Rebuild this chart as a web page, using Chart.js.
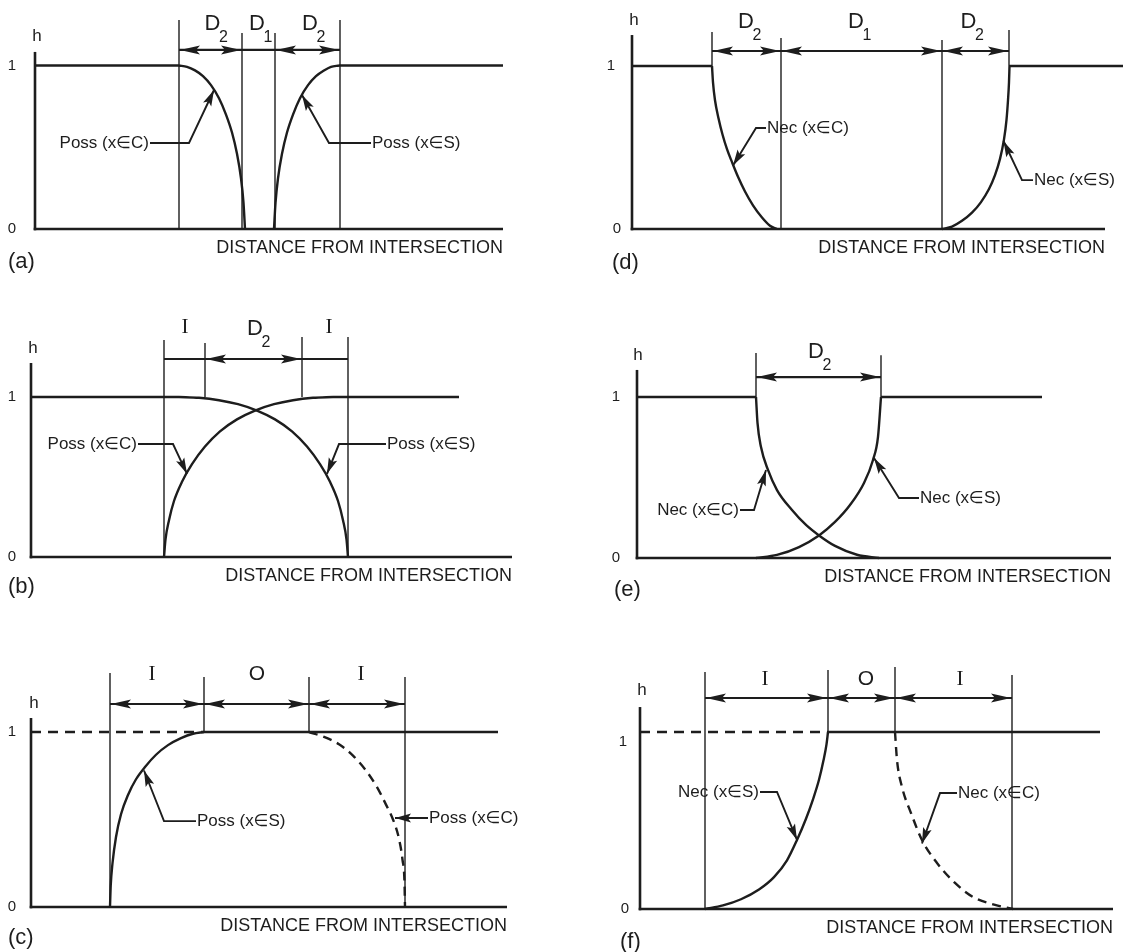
<!DOCTYPE html>
<html>
<head>
<meta charset="utf-8">
<script src="https://cdn.jsdelivr.net/npm/chart.js@4.4.1/dist/chart.umd.min.js"></script>
<style>
  body { margin: 0; background: #fff; }
  #sheet { position: relative; width: 1128px; height: 952px; overflow: hidden; }
  canvas { position: absolute; }
</style>
</head>
<body>
<div id="sheet"></div>
<script>
const INK = '#1d1d1d';
const SANS = '"Liberation Sans", Arial, "DejaVu Sans", sans-serif';
const SERIF = '"Liberation Serif", "Times New Roman", serif';

// x = distance from the h axis (1 unit = 10 px of the figure), y = h (0..1)

// (a) possibility, crossing apart
const aFlatLeft = [[0, 1], [14.4, 1]];
const aFlatRight = [[30.4, 1], [46.8, 1]];
const aPossC = [[14.4, 1], [15.2, 0.992], [16.0, 0.97], [16.8, 0.935], [17.6, 0.88], [18.4, 0.8], [19.1, 0.7], [19.7, 0.59], [20.2, 0.46], [20.6, 0.31], [20.85, 0.16], [21.0, 0]];
const aPossS = [[23.9, 0], [24.05, 0.16], [24.3, 0.31], [24.7, 0.46], [25.2, 0.59], [25.8, 0.7], [26.5, 0.8], [27.3, 0.88], [28.1, 0.935], [28.9, 0.97], [29.6, 0.992], [30.4, 1]];

// (b) possibility, overlapping
const bFlatLeft = [[0, 1], [14.8, 1]];
const bFlatRight = [[30.2, 1], [42.8, 1]];
const bDown = [[14.8, 1], [16.8, 0.995], [18.8, 0.98], [20.7, 0.955], [22.6, 0.915], [24.4, 0.86], [26.1, 0.785], [27.6, 0.69], [28.9, 0.58], [29.9, 0.47], [30.7, 0.35], [31.2, 0.23], [31.55, 0.11], [31.7, 0]];
const bUp = [[13.3, 0], [13.45, 0.11], [13.8, 0.23], [14.3, 0.35], [15.1, 0.47], [16.1, 0.58], [17.4, 0.69], [18.9, 0.785], [20.6, 0.86], [22.4, 0.915], [24.3, 0.955], [26.2, 0.98], [28.2, 0.995], [30.2, 1]];

// (c) possibility, dashed / solid
const cFlatDashed = [[0, 1], [17.3, 1]];
const cFlatSolid = [[17.3, 1], [46.7, 1]];
const cPossS = [[7.9, 0], [7.97, 0.12], [8.15, 0.25], [8.5, 0.4], [9.0, 0.53], [9.7, 0.64], [10.5, 0.73], [11.4, 0.8], [12.5, 0.87], [13.7, 0.925], [15.0, 0.965], [16.2, 0.99], [17.3, 1]];
const cPossC = [[27.8, 1], [29.3, 0.972], [30.8, 0.93], [32.2, 0.865], [33.5, 0.78], [34.6, 0.685], [35.5, 0.585], [36.2, 0.5], [36.8, 0.39], [37.15, 0.27], [37.35, 0.14], [37.4, 0]];

// (d) necessity, crossing apart
const dFlatLeft = [[0, 1], [8.0, 1]];
const dFlatRight = [[37.7, 1], [49.1, 1]];
const dNecC = [[8.0, 1], [8.1, 0.9], [8.3, 0.79], [8.65, 0.68], [9.05, 0.58], [9.5, 0.49], [10.0, 0.41], [10.6, 0.32], [11.3, 0.23], [12.1, 0.145], [13.0, 0.07], [13.8, 0.02], [14.5, 0]];
const dNecS = [[31.0, 0], [32.0, 0.015], [33.0, 0.05], [34.0, 0.1], [34.9, 0.165], [35.7, 0.245], [36.3, 0.33], [36.8, 0.43], [37.2, 0.55], [37.45, 0.67], [37.6, 0.79], [37.7, 0.9], [37.75, 1]];

// (e) necessity, overlapping
const eFlatLeft = [[0, 1], [11.9, 1]];
const eFlatRight = [[24.4, 1], [40.5, 1]];
const eNecC = [[11.9, 1], [12.05, 0.839], [12.4, 0.689], [13.1, 0.547], [14.0, 0.422], [15.5, 0.298], [16.9, 0.205], [18.2, 0.14], [19.8, 0.075], [22.0, 0.02], [24.2, 0]];
const eNecS = [[11.9, 0], [14.0, 0.019], [16.2, 0.068], [18.2, 0.14], [19.8, 0.224], [21.3, 0.329], [22.7, 0.466], [23.6, 0.609], [24.1, 0.752], [24.4, 1]];

// (f) necessity, dashed / solid
const fFlatDashed = [[0, 1], [18.8, 1]];
const fFlatSolid = [[18.8, 1], [46.0, 1]];
const fNecS = [[6.5, 0], [8.3, 0.02], [10.1, 0.055], [11.9, 0.11], [13.4, 0.18], [14.7, 0.275], [15.7, 0.39], [16.6, 0.51], [17.3, 0.62], [17.9, 0.73], [18.35, 0.84], [18.65, 0.93], [18.8, 1]];
const fNecC = [[25.5, 1], [25.7, 0.842], [26.2, 0.689], [27.1, 0.542], [28.2, 0.39], [29.7, 0.26], [31.5, 0.147], [33.3, 0.068], [35.5, 0.023], [37.3, 0]];

const DASH = [9, 6];

const panels = [
  { id: 'a', box: [0, 0, 564, 300], ox: 35, xEnd: 503, y1: 65.5, y0: 229,
    curves: [{ pts: aFlatLeft }, { pts: aFlatRight }, { pts: aPossC }, { pts: aPossS }],
    axisTop: 1.083, h: [0.2, 1.18], ticks: [[-2.3, 0, '0'], [-2.3, 1, '1']], tag: [-2.7, -0.2, '(a)'],
    verticals: [[14.4, 1.278, 0], [20.7, 1.199, 0], [24.0, 1.199, 0], [30.5, 1.278, 0]],
    dimY: 1.095, dims: [[14.4, 20.7, true], [20.7, 24.0, false], [24.0, 30.5, true]],
    labels: [['D', '2', 17.75, 1.217], ['D', '1', 22.2, 1.217], ['D', '2', 27.5, 1.217]],
    leaders: [
      { text: 'Poss (x∈C)', side: 'left', pts: [[11.5, 0.526], [15.4, 0.526], [17.9, 0.85]] },
      { text: 'Poss (x∈S)', side: 'right', pts: [[33.6, 0.526], [29.4, 0.526], [26.7, 0.82]] }
    ] },
  { id: 'd', box: [564, 0, 564, 300], ox: 632, xEnd: 1105, y1: 66, y0: 229,
    curves: [{ pts: dFlatLeft }, { pts: dFlatRight }, { pts: dNecC }, { pts: dNecS }],
    axisTop: 1.19, h: [0.2, 1.282], ticks: [[-1.5, 0, '0'], [-2.1, 1, '1']], tag: [-2.0, -0.21, '(d)'],
    verticals: [[8.0, 1.209, 1], [14.9, 1.172, 0], [31.0, 1.16, 0], [37.7, 1.221, 1]],
    dimY: 1.092, dims: [[8.0, 14.9, true], [14.9, 31.0, true], [31.0, 37.7, true]],
    labels: [['D', '2', 11.4, 1.233], ['D', '1', 22.4, 1.233], ['D', '2', 33.65, 1.233]],
    leaders: [
      { text: 'Nec (x∈C)', side: 'right', pts: [[13.4, 0.62], [12.4, 0.62], [10.1, 0.39]] },
      { text: 'Nec (x∈S)', side: 'right', pts: [[40.1, 0.3], [39.0, 0.3], [37.15, 0.54]] }
    ] },
  { id: 'b', box: [0, 300, 564, 320], ox: 31, xEnd: 512, y1: 397, y0: 557,
    curves: [{ pts: bFlatLeft }, { pts: bFlatRight }, { pts: bDown }, { pts: bUp }],
    axisTop: 1.2125, h: [0.2, 1.306], ticks: [[-1.9, 0, '0'], [-1.9, 1, '1']], tag: [-2.3, -0.19, '(b)'],
    verticals: [[13.3, 1.356, 0], [17.4, 1.3375, 1], [27.1, 1.375, 1], [31.7, 1.375, 0]],
    dimY: 1.2375, dims: [[13.3, 17.4, false], [17.4, 27.1, true], [27.1, 31.7, false]],
    labels: [['I', '', 15.4, 1.4, 'serif'], ['D', '2', 22.4, 1.3875], ['I', '', 29.8, 1.4, 'serif']],
    leaders: [
      { text: 'Poss (x∈C)', side: 'left', pts: [[10.7, 0.706], [14.2, 0.706], [15.6, 0.52]] },
      { text: 'Poss (x∈S)', side: 'right', pts: [[35.5, 0.706], [30.8, 0.706], [29.6, 0.52]] }
    ] },
  { id: 'e', box: [564, 300, 564, 320], ox: 637, xEnd: 1111, y1: 397, y0: 558,
    curves: [{ pts: eFlatLeft }, { pts: eFlatRight }, { pts: eNecC }, { pts: eNecS }],
    axisTop: 1.168, h: [0.1, 1.26], ticks: [[-2.1, 0, '0'], [-2.1, 1, '1']], tag: [-2.3, -0.2, '(e)'],
    verticals: [[11.9, 1.273, 1], [24.4, 1.26, 1]],
    dimY: 1.124, dims: [[11.9, 24.4, true]],
    labels: [['D', '2', 17.9, 1.242]],
    leaders: [
      { text: 'Nec (x∈C)', side: 'left', pts: [[10.3, 0.298], [11.7, 0.298], [12.9, 0.547]] },
      { text: 'Nec (x∈S)', side: 'right', pts: [[28.2, 0.373], [26.2, 0.373], [23.7, 0.621]] }
    ] },
  { id: 'c', box: [0, 620, 564, 332], ox: 31, xEnd: 507, y1: 732, y0: 907,
    curves: [{ pts: cFlatDashed, dash: [10, 7] }, { pts: cFlatSolid }, { pts: cPossS }, { pts: cPossC, dash: DASH }],
    axisTop: 1.08, h: [0.3, 1.166], ticks: [[-1.9, 0, '0'], [-1.9, 1, '1']], tag: [-2.3, -0.177, '(c)'],
    verticals: [[7.9, 1.337, 0], [17.3, 1.314, 1], [27.8, 1.314, 1], [37.4, 1.314, 0]],
    dimY: 1.16, dims: [[7.9, 17.3, true], [17.3, 27.8, true], [27.8, 37.4, true]],
    labels: [['I', '', 12.1, 1.297, 'serif'], ['O', '', 22.6, 1.297], ['I', '', 33.0, 1.297, 'serif']],
    leaders: [
      { text: 'Poss (x∈S)', side: 'right', pts: [[16.5, 0.491], [13.3, 0.491], [11.3, 0.78]] },
      { text: 'Poss (x∈C)', side: 'right', pts: [[39.7, 0.509], [36.4, 0.509]] }
    ] },
  { id: 'f', box: [564, 620, 564, 332], ox: 640, xEnd: 1113, y1: 732, y0: 909,
    curves: [{ pts: fFlatDashed, dash: [10, 7] }, { pts: fFlatSolid }, { pts: fNecS }, { pts: fNecC, dash: DASH }],
    axisTop: 1.141, h: [0.2, 1.237], ticks: [[-1.5, 0, '0'], [-1.7, 0.944, '1']], tag: [-2.0, -0.186, '(f)'],
    verticals: [[6.5, 1.339, 0], [18.8, 1.35, 1], [25.5, 1.367, 1], [37.2, 1.322, 0]],
    dimY: 1.192, dims: [[6.5, 18.8, true], [18.8, 25.5, true], [25.5, 37.2, true]],
    labels: [['I', '', 12.5, 1.266, 'serif'], ['O', '', 22.6, 1.266], ['I', '', 32.0, 1.266, 'serif']],
    leaders: [
      { text: 'Nec (x∈S)', side: 'left', pts: [[12.0, 0.661], [13.7, 0.661], [15.7, 0.39]] },
      { text: 'Nec (x∈C)', side: 'right', pts: [[31.7, 0.655], [30.0, 0.655], [28.2, 0.37]] }
    ] }
];

const byId = {};
panels.forEach(p => byId['panel-' + p.id] = p);

function seg(ctx, x0, y0, x1, y1, w) {
  ctx.lineWidth = w;
  ctx.beginPath();
  ctx.moveTo(x0, y0);
  ctx.lineTo(x1, y1);
  ctx.stroke();
}

// arrowhead with its tip at (tx,ty), pointing away from (fx,fy)
function head(ctx, tx, ty, fx, fy, len, hw) {
  const dx = fx - tx, dy = fy - ty, d = Math.hypot(dx, dy) || 1;
  const ux = dx / d, uy = dy / d;
  const bx = tx + ux * len, by = ty + uy * len;
  ctx.beginPath();
  ctx.moveTo(tx, ty);
  ctx.lineTo(bx - uy * hw, by + ux * hw);
  ctx.lineTo(tx + ux * len * 0.8, ty + uy * len * 0.8);
  ctx.lineTo(bx + uy * hw, by - ux * hw);
  ctx.closePath();
  ctx.fill();
}

function write(ctx, s, x, y, font, align, base) {
  ctx.font = font;
  ctx.textAlign = align;
  ctx.textBaseline = base;
  ctx.fillText(s, x, y);
}

const figurePlugin = {
  id: 'figure',
  afterDatasetsDraw(chart) {
    const p = byId[chart.canvas.id];
    const ctx = chart.ctx;
    const xs = chart.scales.x, ys = chart.scales.y;
    const X = v => xs.getPixelForValue(v);
    const Y = v => ys.getPixelForValue(v);
    ctx.save();
    ctx.strokeStyle = INK;
    ctx.fillStyle = INK;
    ctx.setLineDash([]);

    // axes
    seg(ctx, X(0), Y(p.axisTop), X(0), Y(0) + 1.3, 2.6);
    seg(ctx, X(0) - 1.3, Y(0), X(xs.max), Y(0), 2.6);

    // zone boundaries
    p.verticals.forEach(([x, t, b]) => seg(ctx, X(x), Y(t), X(x), Y(b), 1.4));

    // dimension line
    const dy = Y(p.dimY);
    p.dims.forEach(([a, b, arrows]) => {
      seg(ctx, X(a), dy, X(b), dy, 2.2);
      if (arrows) {
        head(ctx, X(a) + 1, dy, X(b), dy, 20, 4.5);
        head(ctx, X(b) - 1, dy, X(a), dy, 20, 4.5);
      }
    });

    // zone labels
    p.labels.forEach(([main, sub, x, y, face]) => {
      const font = face === 'serif' ? '21px ' + SERIF : (main === 'O' ? '21px ' : '22px ') + SANS;
      write(ctx, main, X(x), Y(y), font, 'center', 'alphabetic');
      if (sub) {
        const w = ctx.measureText(main).width;
        write(ctx, sub, X(x) + w / 2 - 1.5, Y(y) + 11.5, '16px ' + SANS, 'left', 'alphabetic');
      }
    });

    // leaders with arrows
    p.leaders.forEach(l => {
      const pts = l.pts.map(([x, y]) => [X(x), Y(y)]);
      ctx.lineWidth = 1.9;
      ctx.beginPath();
      pts.forEach(([x, y], i) => i ? ctx.lineTo(x, y) : ctx.moveTo(x, y));
      ctx.stroke();
      const n = pts.length;
      head(ctx, pts[n - 1][0], pts[n - 1][1], pts[n - 2][0], pts[n - 2][1], 16, 4.5);
      if (l.side === 'left') write(ctx, l.text, pts[0][0] - 1, pts[0][1], '17px ' + SANS, 'right', 'middle');
      else write(ctx, l.text, pts[0][0] + 1, pts[0][1], '17px ' + SANS, 'left', 'middle');
    });

    // axis texts
    write(ctx, 'h', X(p.h[0]), Y(p.h[1]), '17px ' + SANS, 'center', 'middle');
    p.ticks.forEach(([x, y, s]) => write(ctx, s, X(x), Y(y), '15px ' + SANS, 'center', 'middle'));
    write(ctx, p.tag[2], X(p.tag[0]), Y(p.tag[1]), '22px ' + SANS, 'left', 'middle');
    write(ctx, 'DISTANCE FROM INTERSECTION', X(xs.max), Y(0) + 19.5, '18px ' + SANS, 'right', 'middle');
    ctx.restore();
  }
};

const sheet = document.getElementById('sheet');
panels.forEach(p => {
  const [left, top, w, h] = p.box;
  const cv = document.createElement('canvas');
  cv.id = 'panel-' + p.id;
  cv.width = w;
  cv.height = h;
  cv.style.left = left + 'px';
  cv.style.top = top + 'px';
  sheet.appendChild(cv);

  new Chart(cv, {
    type: 'line',
    data: {
      datasets: p.curves.map(c => ({
        data: c.pts.map(([x, y]) => ({ x, y })),
        borderColor: INK,
        borderWidth: 2.4,
        borderDash: c.dash || [],
        pointRadius: 0,
        fill: false,
        cubicInterpolationMode: 'monotone',
        clip: false
      }))
    },
    options: {
      responsive: false,
      animation: false,
      devicePixelRatio: 1,
      events: [],
      layout: {
        autoPadding: false,
        padding: { left: p.ox - left, right: left + w - p.xEnd, top: p.y1 - top, bottom: top + h - p.y0 }
      },
      scales: {
        x: { type: 'linear', min: 0, max: (p.xEnd - p.ox) / 10, display: false },
        y: { type: 'linear', min: 0, max: 1, display: false }
      },
      plugins: { legend: { display: false }, tooltip: { enabled: false } }
    },
    plugins: [figurePlugin]
  });
});
</script>
</body>
</html>
